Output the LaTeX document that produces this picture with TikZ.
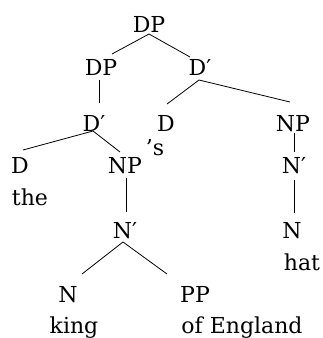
\documentclass[tikz,border=0pt]{standalone}
\usepackage{fontspec}
\setmainfont{DejaVu Serif}
\begin{document}
\begin{tikzpicture}[x=1pt,y=1pt,
  lbl/.style={anchor=base,inner sep=0pt,font=\fontsize{22}{26}\selectfont},
  edge/.style={line width=0.8pt}]
\useasboundingbox (0,0) rectangle (323,-338);
\node[lbl] (DP0) at (149,-32) {DP};
\node[lbl] (DP1) at (101,-75) {DP};
\node[lbl] (Db1) at (200,-75) {D′};
\node[lbl] (Db2) at (94,-131) {D′};
\node[lbl] (D3) at (166,-131) {D};
\node[lbl] (NP3) at (293,-131) {NP};
\node[lbl] (s) at (155,-155) {’s};
\node[lbl] (D4) at (20,-173) {D};
\node[lbl] (NP4) at (125,-173) {NP};
\node[lbl] (Nbr) at (294,-173) {N′};
\node[lbl] (the) at (30,-205) {the};
\node[lbl] (Nb5) at (125,-238) {N′};
\node[lbl] (Nr) at (292,-238) {N};
\node[lbl] (hat) at (302,-270) {hat};
\node[lbl] (N6) at (68,-302) {N};
\node[lbl] (PP) at (195,-302) {PP};
\node[lbl] (king) at (74,-333) {king};
\node[lbl] (ofE) at (242,-333) {of England};
\draw[edge] ([shift={(0,-2)}]DP0.base) -- ([shift={(11,21)}]DP1.base);
\draw[edge] ([shift={(0,-2)}]DP0.base) -- ([shift={(-10,18)}]Db1.base);
\draw[edge] ([shift={(-2,-5)}]DP1.base) -- ([shift={(5,28)}]Db2.base);
\draw[edge] ([shift={(-1,-5)}]Db1.base) -- ([shift={(1,27)}]D3.base);
\draw[edge] ([shift={(-1,-5)}]Db1.base) -- ([shift={(-3,29)}]NP3.base);
\draw[edge] ([shift={(-1,0)}]Db2.base) -- ([shift={(3,23)}]D4.base);
\draw[edge] ([shift={(-1,0)}]Db2.base) -- ([shift={(-5,21)}]NP4.base);
\draw[edge] ([shift={(1,-5)}]NP4.base) -- ([shift={(1,26)}]Nb5.base);
\draw[edge] ([shift={(-2,-4)}]Nb5.base) -- ([shift={(14,28)}]N6.base);
\draw[edge] ([shift={(-2,-4)}]Nb5.base) -- ([shift={(-28,28)}]PP.base);
\draw[edge] ([shift={(1,-2)}]NP3.base) -- ([shift={(0,21)}]Nbr.base);
\draw[edge] ([shift={(0,-7)}]Nbr.base) -- ([shift={(2,25)}]Nr.base);
\end{tikzpicture}
\end{document}
